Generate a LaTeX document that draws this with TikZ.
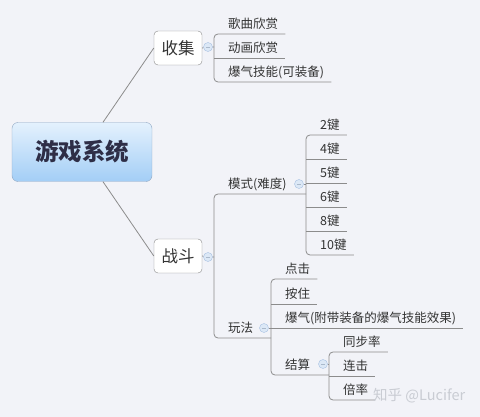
\documentclass[tikz,border=0pt]{standalone}
\usepackage{fontspec}
\setmainfont{Noto Sans CJK SC}
\usetikzlibrary{positioning}
\definecolor{bg}{HTML}{F2F3F8}
\definecolor{txt}{HTML}{333333}
\definecolor{lgrey}{HTML}{8C8C8C}
\definecolor{bgrey}{HTML}{8A8A8A}
\definecolor{rtop}{HTML}{E4F1FD}
\definecolor{rbot}{HTML}{A3CEF6}
\definecolor{rbord}{HTML}{8FA6C2}
\definecolor{cblue}{HTML}{A7C1E2}
\definecolor{cfill}{HTML}{DCE8F6}
\definecolor{wm}{HTML}{C9CCD3}

\begin{document}
\begin{tikzpicture}[x=1pt, y=-1pt, line join=round]
\tikzstyle{conn}=[draw=lgrey, line width=0.8pt]
\tikzstyle{root}=[draw=rbord, top color=rtop, bottom color=rbot, rounded corners=6pt, minimum width=140pt, minimum height=59pt, text=txt!90!blue, font=\fontsize{23.5}{23.5}\selectfont\bfseries]
\tikzstyle{topic}=[draw=bgrey, fill=white, rounded corners=4pt, minimum width=48pt, minimum height=34pt, inner sep=0pt, text=txt, font=\fontsize{16.5}{16.5}\selectfont]
\tikzstyle{item}=[anchor=south west, inner xsep=7pt, inner ysep=3.3pt, text height=9pt, text depth=2pt, text=txt, font=\fontsize{12.5}{12.5}\selectfont]
\tikzstyle{fold}=[circle, draw=cblue, fill=cfill, minimum size=9pt, inner sep=0pt, path picture={\draw[cblue!80!black!70, line width=0.6pt] ([xshift=-2.2pt]path picture bounding box.center) -- ([xshift=2.2pt]path picture bounding box.center);}]

\fill[bg] (0,0) rectangle (480,417);
\useasboundingbox (0,0) rectangle (480,417);

\node[root]  (sys)     at (82,152)  {游戏系统};
\node[topic] (collect) at (178,48)  {收集};
\node[topic] (fight)   at (178,256) {战斗};
\draw[conn] ([xshift=21pt]sys.north) -- (collect.west);
\draw[conn] ([xshift=21pt]sys.south) -- (fight.west);

\node[item] (g1) at (221,34) {歌曲欣赏};
\node[item] (g2) at (221,58) {动画欣赏};
\node[item] (g3) at (221,82) {爆气技能(可装备)};
\node[fold] (cf) at (208,47) {};
\coordinate (cb) at (214,47);
\draw[conn] (collect.east) -- (cf) (cf) -- (cb);
\draw[conn, rounded corners=4pt] (g1.south east) -- (g1.south west -| cb) -- (g3.south west -| cb) -- (g3.south east);
\draw[conn] (g2.south west -| cb) -- (g2.south east);

\node[item] (mode) at (221,194) {模式(难度)};
\node[item] (play) at (221,338) {玩法};
\node[fold] (ff) at (208,257) {};
\coordinate (fb) at (214,257);
\node[fold] (mf) at (299,184) {};
\coordinate (kb) at (306,184);
\node[fold] (pf) at (264,328) {};
\coordinate (pb) at (271,328);
\draw[conn] (fight.east) -- (ff) (ff) -- (fb);
\draw[conn, rounded corners=4pt] (mode.south west -| kb) -- (mode.south west -| fb) -- (play.south west -| fb) -- (play.south west -| pb);

\foreach \k [count=\i] in {2,4,5,6,8,10}
  \node[item] (k\i) at (313,111+24*\i) {\k 键};
\draw[conn] (mf) -- (kb);
\draw[conn, rounded corners=4pt] (k1.south east) -- (k1.south west -| kb) -- (k6.south west -| kb) -- (k6.south east);
\foreach \i in {2,...,5}
  \draw[conn] (k\i.south west -| kb) -- (k\i.south east);

\node[item] (p1) at (278,279) {点击};
\node[item] (p2) at (278,304) {按住};
\node[item] (p3) at (278,328) {爆气(附带装备的爆气技能效果)};
\node[item] (p4) at (278,375) {结算};
\node[fold] (sf) at (323,364) {};
\coordinate (sb) at (329,364);
\draw[conn] (pf) -- (pb);
\draw[conn, rounded corners=4pt] (p1.south east) -- (p1.south west -| pb) -- (p4.south west -| pb) -- (p4.south west -| sb);
\draw[conn] (p2.south west -| pb) -- (p2.south east);
\draw[conn] (p3.south west -| pb) -- (p3.south east);

\node[item] (s1) at (336,352) {同步率};
\node[item] (s2) at (336,376) {连击};
\node[item] (s3) at (336,400) {倍率};
\draw[conn] (sf) -- (sb);
\draw[conn, rounded corners=4pt] (s1.south east) -- (s1.south west -| sb) -- (s3.south west -| sb) -- (s3.south east);
\draw[conn] (s2.south west -| sb) -- (s2.south east);

\node[anchor=west, inner sep=0pt, text=wm, font=\fontsize{14.5}{14.5}\selectfont] (mark) at (373,396) {知乎 @Lucifer};
\end{tikzpicture}
\end{document}
